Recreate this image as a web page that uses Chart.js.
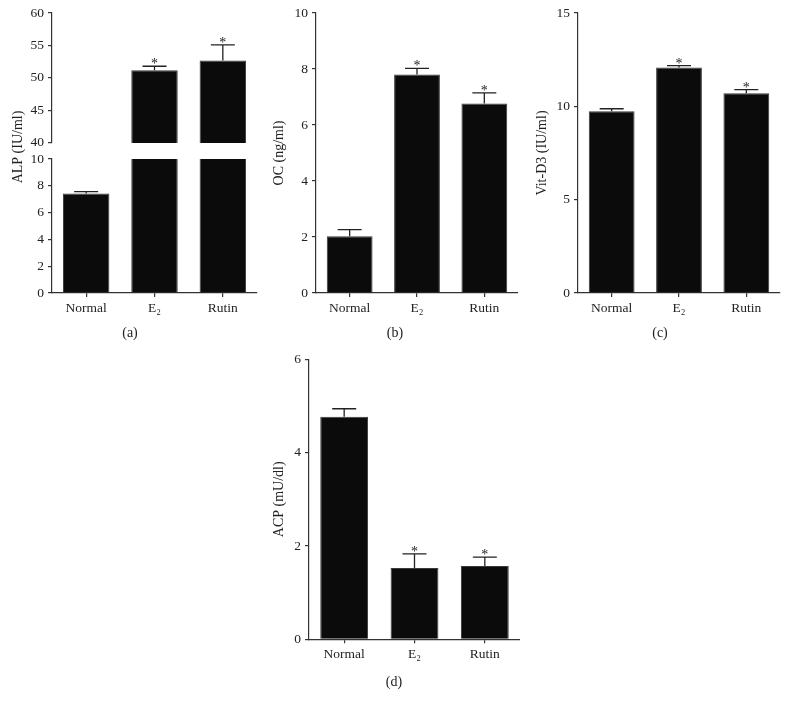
<!DOCTYPE html>
<html>
<head>
<meta charset="utf-8">
<script src="https://cdn.jsdelivr.net/npm/chart.js@4.4.0/dist/chart.umd.min.js"></script>
<style>
  body { margin: 0; background: #fff; }
  #fig { position: relative; width: 789px; height: 709px; }
  canvas { position: absolute; }
</style>
</head>
<body>
<div id="fig">
  <canvas id="alpLow" width="260" height="345" style="left:0;top:0"></canvas>
  <canvas id="alpHigh" width="260" height="155" style="left:0;top:0"></canvas>
  <canvas id="oc" width="258" height="345" style="left:260px;top:0"></canvas>
  <canvas id="vitd" width="262" height="345" style="left:520px;top:0"></canvas>
  <canvas id="acp" width="270" height="360" style="left:250px;top:340px"></canvas>
</div>
<script>
// groups + values (mean, error bar height)
const groups = ['Normal', 'E₂', 'Rutin'];
const signif = [false, true, true];

const alpMean = [7.42, 51.2, 52.7];
const alpErr = [0.15, 0.6, 2.4];
const ocMean = [2.03, 7.8, 6.77];
const ocErr = [0.23, 0.22, 0.38];
const vitMean = [9.73, 12.08, 10.7];
const vitErr = [0.14, 0.1, 0.19];
const acpMean = [4.77, 1.53, 1.57];
const acpErr = [0.17, 0.3, 0.19];

const serif = '"Liberation Serif", "DejaVu Serif", serif';
const axisColor = '#333';
const textColor = '#222';

// error bars + asterisks on top of each bar
const errorBars = {
  id: 'errorBars',
  afterDatasetsDraw(chart, args, opts) {
    if (!opts.err) return;
    const { ctx, scales: { y } } = chart;
    const meta = chart.getDatasetMeta(0);
    const vals = chart.data.datasets[0].data;
    meta.data.forEach((bar, i) => {
      const v = vals[i];
      if (v == null || v > y.max || v < y.min) return;
      const top = y.getPixelForValue(v + opts.err[i]);
      ctx.save();
      ctx.strokeStyle = '#222';
      ctx.lineWidth = 1.3;
      ctx.beginPath();
      ctx.moveTo(bar.x, bar.y);
      ctx.lineTo(bar.x, top);
      ctx.moveTo(bar.x - 12, top);
      ctx.lineTo(bar.x + 12, top);
      ctx.stroke();
      if (opts.stars[i]) {
        ctx.fillStyle = textColor;
        ctx.font = '14px ' + serif;
        ctx.textAlign = 'center';
        ctx.textBaseline = 'alphabetic';
        ctx.fillText('*', bar.x, top + 2);
      }
      ctx.restore();
    });
  }
};

// free text (panel letters, split-axis title)
const captions = {
  id: 'captions',
  afterDraw(chart, args, opts) {
    const ctx = chart.ctx;
    (opts.items || []).forEach(t => {
      ctx.save();
      ctx.translate(t.x, t.y);
      if (t.rotate) ctx.rotate(t.rotate);
      ctx.font = '14px ' + serif;
      ctx.fillStyle = textColor;
      ctx.textAlign = 'center';
      ctx.textBaseline = 'middle';
      ctx.fillText(t.text, 0, 0);
      ctx.restore();
    });
  }
};

function makePanel(id, cfg) {
  const x = {
    display: cfg.showX !== false,
    grid: { offset: false, drawOnChartArea: false, tickLength: 4, color: axisColor, lineWidth: 1.2 },
    border: { color: axisColor, width: 1.2 },
    ticks: { font: { family: serif, size: 13.5 }, color: textColor, padding: 3 }
  };
  if (cfg.xHeight) x.afterFit = s => { s.height = cfg.xHeight; };

  const y = {
    min: cfg.min, max: cfg.max,
    ticks: { stepSize: cfg.step, font: { family: serif, size: 13.5 }, color: textColor, padding: 4 },
    grid: { drawOnChartArea: false, tickLength: 4, color: axisColor, lineWidth: 1.2 },
    border: { color: axisColor, width: 1.2 },
    afterFit: s => { s.width = cfg.yWidth; }
  };
  if (cfg.yTitle) {
    y.title = { display: true, text: cfg.yTitle, color: textColor,
                font: { family: serif, size: 14 }, padding: { top: cfg.titlePad, bottom: 0 } };
  }

  return new Chart(document.getElementById(id), {
    type: 'bar',
    data: {
      labels: groups,
      datasets: [{
        data: cfg.data,
        backgroundColor: '#0b0b0b',
        borderColor: '#3a3a3a',
        borderWidth: 1,
        barPercentage: 0.68,
        categoryPercentage: 1,
        clip: 0
      }]
    },
    options: {
      responsive: false,
      animation: false,
      layout: { autoPadding: false, padding: cfg.padding },
      plugins: {
        legend: { display: false },
        tooltip: { enabled: false },
        errorBars: { err: cfg.err, stars: signif },
        captions: { items: cfg.captions || [] }
      },
      scales: { x, y }
    },
    plugins: [errorBars, captions]
  });
}

// (a) ALP, broken axis: 0-10 below, 40-60 above
makePanel('alpLow', {
  data: alpMean, err: alpErr, min: 0, max: 10, step: 2,
  yWidth: 52, xHeight: 52,
  padding: { top: 159, right: 3, left: 0, bottom: 0 },
  captions: [
    { text: 'ALP (IU/ml)', x: 18, y: 147, rotate: -Math.PI / 2 },
    { text: '(a)', x: 130, y: 333 }
  ]
});
makePanel('alpHigh', {
  data: alpMean.map(v => v >= 40 ? v : null), err: alpErr, min: 40, max: 60, step: 5,
  yWidth: 52, showX: false,
  padding: { top: 13, right: 3, left: 0, bottom: 9 }
});

// (b) OC
makePanel('oc', {
  data: ocMean, err: ocErr, min: 0, max: 10, step: 2,
  yWidth: 56, xHeight: 52, yTitle: 'OC (ng/ml)', titlePad: 11,
  padding: { top: 13, right: 0, left: 0, bottom: 0 },
  captions: [{ text: '(b)', x: 135, y: 333 }]
});

// (c) Vit-D3
makePanel('vitd', {
  data: vitMean, err: vitErr, min: 0, max: 15, step: 5,
  yWidth: 58, xHeight: 52, yTitle: 'Vit-D3 (IU/ml)', titlePad: 14,
  padding: { top: 13, right: 2, left: 0, bottom: 0 },
  captions: [{ text: '(c)', x: 140, y: 333 }]
});

// (d) ACP
makePanel('acp', {
  data: acpMean, err: acpErr, min: 0, max: 6, step: 2,
  yWidth: 59, xHeight: 60.7, yTitle: 'ACP (mU/dl)', titlePad: 21,
  padding: { top: 19.3, right: 0, left: 0, bottom: 0 },
  captions: [{ text: '(d)', x: 144, y: 342 }]
});
</script>
</body>
</html>
